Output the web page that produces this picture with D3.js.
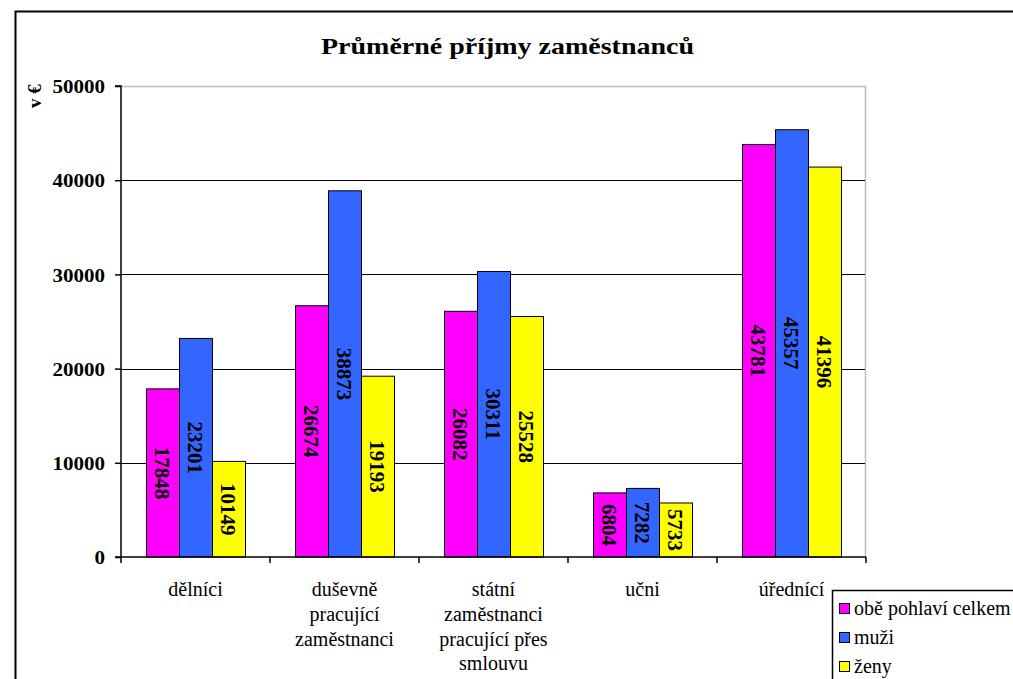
<!DOCTYPE html>
<html><head><meta charset="utf-8">
<script src="https://cdn.jsdelivr.net/npm/d3@7"></script>
<style>body{margin:0;background:#fff}svg{display:block}svg text{font-family:"Liberation Serif","Times New Roman",serif}</style>
</head><body>
<svg id="c" width="1013" height="679"></svg>
<script>
const categories = [["dělníci"],["duševně","pracující","zaměstnanci"],["státní","zaměstnanci","pracující přes","smlouvu"],["učni"],["úřednící"]];
const categoryKeys = ["dělníci","duševně pracující zaměstnanci","státní zaměstnanci pracující přes smlouvu","učni","úřednící"];
const seriesNames = ["obě pohlaví celkem","muži","ženy"];
const seriesColors = ["#FF00FF","#3366FF","#FFFF00"];
const both = [17848, 26674, 26082, 6804, 43781];
const men = [23201, 38873, 30311, 7282, 45357];
const women = [10149, 19193, 25528, 5733, 41396];
const yTicks = [0, 10000, 20000, 30000, 40000, 50000];
const title = "Průměrné příjmy zaměstnanců";
const yLabel = "v €";

const FONT = "Liberation Serif";
const values = [both, men, women];
const svg = d3.select("#c");
const L = 121, R = 866, T = 86, B = 557;

// outer frame
svg.append("path").attr("d","M15.5,690 V11.5 H1030").attr("fill","none").attr("stroke","#000").attr("stroke-width",2);

const x0 = d3.scaleBand().domain(categoryKeys).range([L, R]).padding(0);
const x1 = d3.scaleBand().domain(seriesNames).range([0, x0.bandwidth()]).paddingInner(0).paddingOuter(0.758);
const y = d3.scaleLinear().domain([0, 50000]).range([B, T]);

// plot border top/right gray
svg.append("path").attr("d",`M${L},${T+0.5} H${R-0.5} V${B}`).attr("fill","none").attr("stroke","#bdbdbd").attr("stroke-width",1.5);

// gridlines
svg.append("g").selectAll("line").data(yTicks.filter(d=>d>0 && d<50000)).join("line")
  .attr("x1",L).attr("x2",R-1).attr("y1",d=>Math.round(y(d))+0.5).attr("y2",d=>Math.round(y(d))+0.5)
  .attr("stroke","#000").attr("stroke-width",1);

// bars
const g = svg.append("g");
seriesNames.forEach((s, si) => {
  g.selectAll(null).data(categoryKeys).join("rect")
    .attr("x", c => Math.round(x0(c) + x1(s)) + 0.5)
    .attr("y", (c, i) => y(values[si][i]))
    .attr("width", x1.bandwidth())
    .attr("height", (c, i) => B - y(values[si][i]))
    .attr("fill", seriesColors[si]).attr("stroke","#000").attr("stroke-width",1);
});
// bar value labels
seriesNames.forEach((s, si) => {
  g.selectAll(null).data(categoryKeys).join("text")
    .attr("transform", (c, i) => `translate(${x0(c) + x1(s) + x1.bandwidth()/2},${(y(values[si][i]) + B)/2}) rotate(90)`)
    .attr("text-anchor","middle").attr("dy","0.35em")
    .attr("font-family",FONT).attr("font-weight","bold").attr("font-size",21)
    .text((c, i) => values[si][i]);
});

// axes
const yAxis = d3.axisLeft(y).tickValues(yTicks).tickSize(6).tickFormat(d3.format("d"));
const ya = svg.append("g").attr("transform",`translate(${L},0)`).call(yAxis);
ya.select(".domain").attr("stroke","#000").attr("stroke-width",1.5).attr("d",`M-6,${T}H0V${B}H-6`);
ya.selectAll(".tick line").attr("stroke","#000").attr("stroke-width",1.5);
ya.selectAll(".tick text").each(function(d){
  const t = d3.select(this);
  const n = String(d).length;
  t.attr("font-family",FONT).attr("font-weight","bold").attr("font-size",19).attr("fill","#000")
   .attr("x",-16).attr("dy","0.35em").attr("text-anchor","end")
   .attr("textLength", n * 10.5).attr("lengthAdjust","spacingAndGlyphs");
});

const xa = svg.append("g");
xa.append("line").attr("x1",L).attr("x2",R).attr("y1",B).attr("y2",B).attr("stroke","#000").attr("stroke-width",1.5);
const tickXs = categoryKeys.map(c => x0(c)).concat([R]);
xa.selectAll("line.t").data(tickXs).join("line").attr("class","t")
  .attr("x1",d=>d).attr("x2",d=>d).attr("y1",B).attr("y2",B+6).attr("stroke","#000").attr("stroke-width",1.5);
categories.forEach((lines, i) => {
  const cx = x0(categoryKeys[i]) + x0.bandwidth()/2;
  const t = xa.append("text").attr("text-anchor","middle").attr("font-family",FONT).attr("font-size",20)
    .attr("x", cx).attr("y", 596);
  lines.forEach((ln, j) => t.append("tspan").attr("x", cx).attr("dy", j ? 24.8 : 0).text(ln));
});

// title
svg.append("text").attr("x",507.5).attr("y",53.5).attr("text-anchor","middle")
  .attr("textLength",373).attr("lengthAdjust","spacingAndGlyphs")
  .attr("font-family",FONT).attr("font-weight","bold").attr("font-size",24).text(title);
// y label
svg.append("text").attr("transform","translate(41,96) rotate(-90)").attr("text-anchor","middle")
  .attr("font-family",FONT).attr("font-weight","bold").attr("font-size",19).text(yLabel);

// legend
const lg = svg.append("g");
lg.append("rect").attr("x",832.5).attr("y",590.5).attr("width",200).attr("height",100).attr("fill","#fff").attr("stroke","#000").attr("stroke-width",1.5);
seriesNames.forEach((s, i) => {
  lg.append("rect").attr("x",839.5).attr("y",603.5 + i*29).attr("width",10).attr("height",10).attr("fill",seriesColors[i]).attr("stroke","#000");
  lg.append("text").attr("x",854).attr("y",614.5 + i*29).attr("font-family",FONT).attr("font-size",20).text(s);
});
</script>
</body></html>
